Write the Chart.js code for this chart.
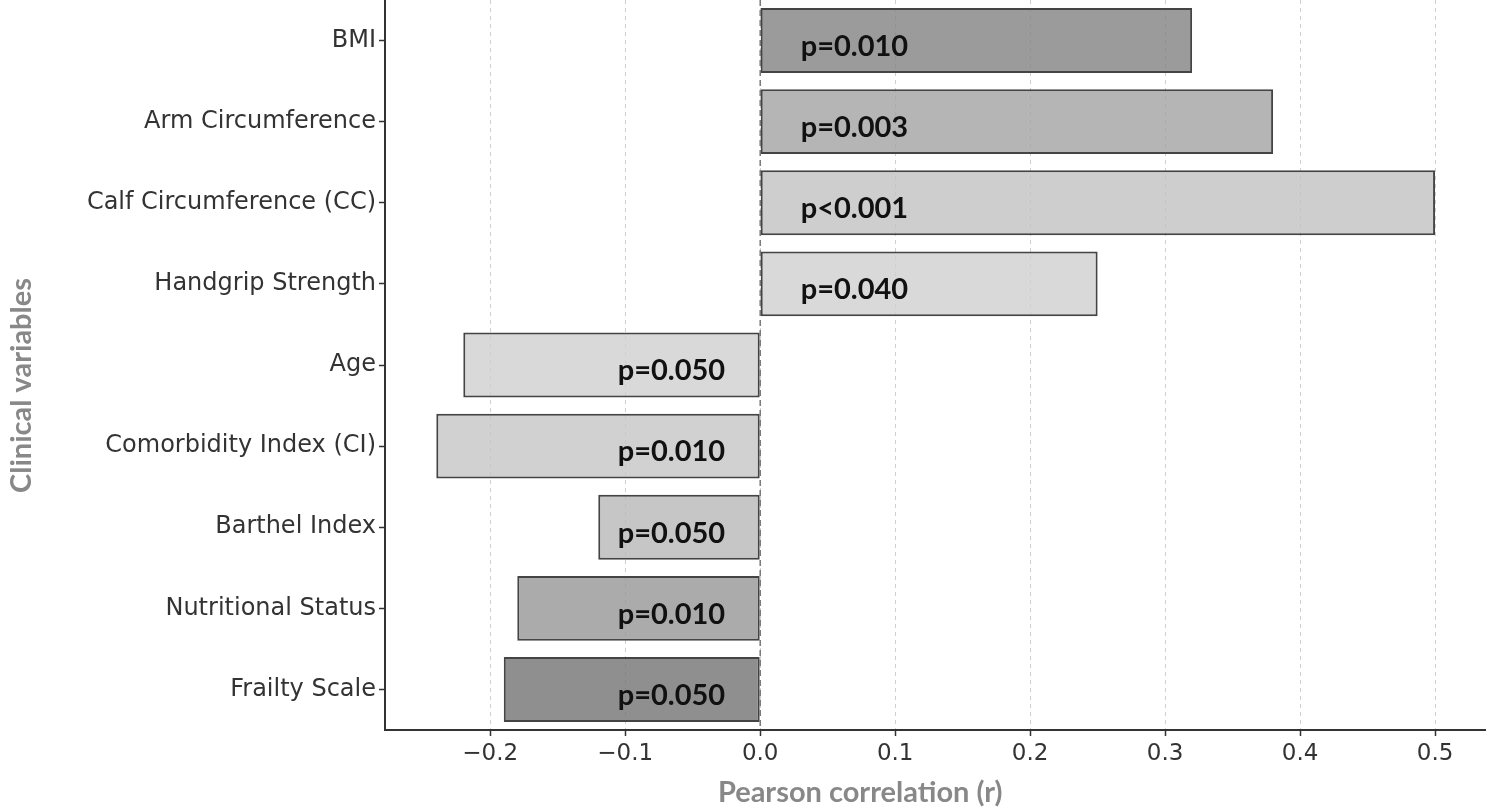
<!DOCTYPE html>
<html lang="en">
<head>
  <meta charset="UTF-8">
  <title>Pearson correlation of clinical variables</title>
  <script src="https://cdn.jsdelivr.net/npm/chart.js"></script>
  <style>
    html, body { margin: 0; padding: 0; background: #fff; }
    #wrap { width: 1499px; height: 812px; }
  </style>
</head>
<body>
  <div id="wrap"><canvas id="corrChart"></canvas></div>

  <script>
    const variables = ['BMI', 'Arm Circumference', 'Calf Circumference (CC)', 'Handgrip Strength', 'Age',
                       'Comorbidity Index (CI)', 'Barthel Index', 'Nutritional Status', 'Frailty Scale'];
    const correlation = [0.32, 0.38, 0.50, 0.25, -0.22, -0.24, -0.12, -0.18, -0.19];
    const pLabels = ['p=0.010', 'p=0.003', 'p<0.001', 'p=0.040', 'p=0.050', 'p=0.010', 'p=0.050', 'p=0.010', 'p=0.050'];
    const xTicks = [-0.2, -0.1, 0.0, 0.1, 0.2, 0.3, 0.4, 0.5];

    // grey shades of the bars (matplotlib-ish, slightly transparent)
    const barColors = ['rgba(130,130,130,0.8)', 'rgba(162,162,162,0.8)', 'rgba(194,194,194,0.8)', 'rgba(208,208,208,0.8)',
                       'rgba(208,208,208,0.8)', 'rgba(198,198,198,0.8)', 'rgba(184,184,184,0.8)', 'rgba(150,150,150,0.8)',
                       'rgba(115,115,115,0.8)'];

    const extras = {
      id: 'extras',
      afterDatasetsDraw(chart) {
        const { ctx, chartArea, scales: { x, y } } = chart;
        // dashed zero line
        ctx.save();
        ctx.strokeStyle = '#777';
        ctx.lineWidth = 1.5;
        ctx.setLineDash([6, 4]);
        ctx.beginPath();
        ctx.moveTo(x.getPixelForValue(0), chartArea.top);
        ctx.lineTo(x.getPixelForValue(0), chartArea.bottom);
        ctx.stroke();
        ctx.setLineDash([]);

        // p-value labels inside the bars
        ctx.font = 'bold 29px Lato';
        ctx.fillStyle = '#111';
        ctx.textBaseline = 'middle';
        correlation.forEach((v, i) => {
          const cy = y.getPixelForValue(i) + 6;
          if (v >= 0) {
            ctx.textAlign = 'left';
            ctx.fillText(pLabels[i], x.getPixelForValue(0.03), cy);
          } else {
            ctx.textAlign = 'right';
            ctx.fillText(pLabels[i], x.getPixelForValue(-0.026), cy);
          }
        });

        // axis titles
        ctx.font = 'bold 29px Lato';
        ctx.fillStyle = '#888';
        ctx.textAlign = 'center';
        ctx.fillText('Pearson correlation (r)', chartArea.left + 0.432 * (chartArea.right - chartArea.left), 793);
        ctx.translate(22, chartArea.top + 0.528 * (chartArea.bottom - chartArea.top));
        ctx.rotate(-Math.PI / 2);
        ctx.fillText('Clinical variables', 0, 0);
        ctx.restore();
      }
    };

    new Chart(document.getElementById('corrChart').getContext('2d'), {
      type: 'bar',
      data: {
        labels: variables,
        datasets: [{
          data: correlation,
          backgroundColor: barColors,
          borderColor: '#444',
          borderWidth: 2,
          borderSkipped: false,
          barPercentage: 0.8,
          categoryPercentage: 1.0
        }]
      },
      options: {
        indexAxis: 'y',
        responsive: true,
        maintainAspectRatio: false,
        animation: false,
        layout: { padding: { top: 0, right: 14, left: 0, bottom: 0 } },
        scales: {
          x: {
            min: -0.278,
            max: 0.537,
            afterBuildTicks(scale) { scale.ticks = xTicks.map(v => ({ value: v })); },
            afterFit(scale) { scale.height = 82; scale.paddingLeft = 0; scale.paddingRight = 0; },
            ticks: {
              font: { family: 'DejaVu Sans', size: 23 },
              color: '#333',
              padding: 4,
              callback: v => (v < 0 ? '\u2212' : '') + Math.abs(v).toFixed(1)
            },
            grid: {
              color: '#cfcfcf',
              lineWidth: 1,
              tickColor: '#333',
              tickLength: 6,
              tickWidth: 1.5
            },
            border: { display: true, color: '#333', width: 2, dash: [4, 4] }
          },
          y: {
            afterFit(scale) { scale.width = 385; scale.paddingTop = 0; scale.paddingBottom = 0; },
            ticks: {
              font: { family: 'DejaVu Sans', size: 24 },
              color: '#333',
              padding: 3
            },
            grid: {
              offset: false,
              drawOnChartArea: false,
              tickColor: '#333',
              tickLength: 6,
              tickWidth: 1.5
            },
            border: { display: true, color: '#333', width: 2 }
          }
        },
        plugins: {
          legend: { display: false },
          tooltip: { enabled: false }
        }
      },
      plugins: [extras]
    });
  </script>
</body>
</html>
